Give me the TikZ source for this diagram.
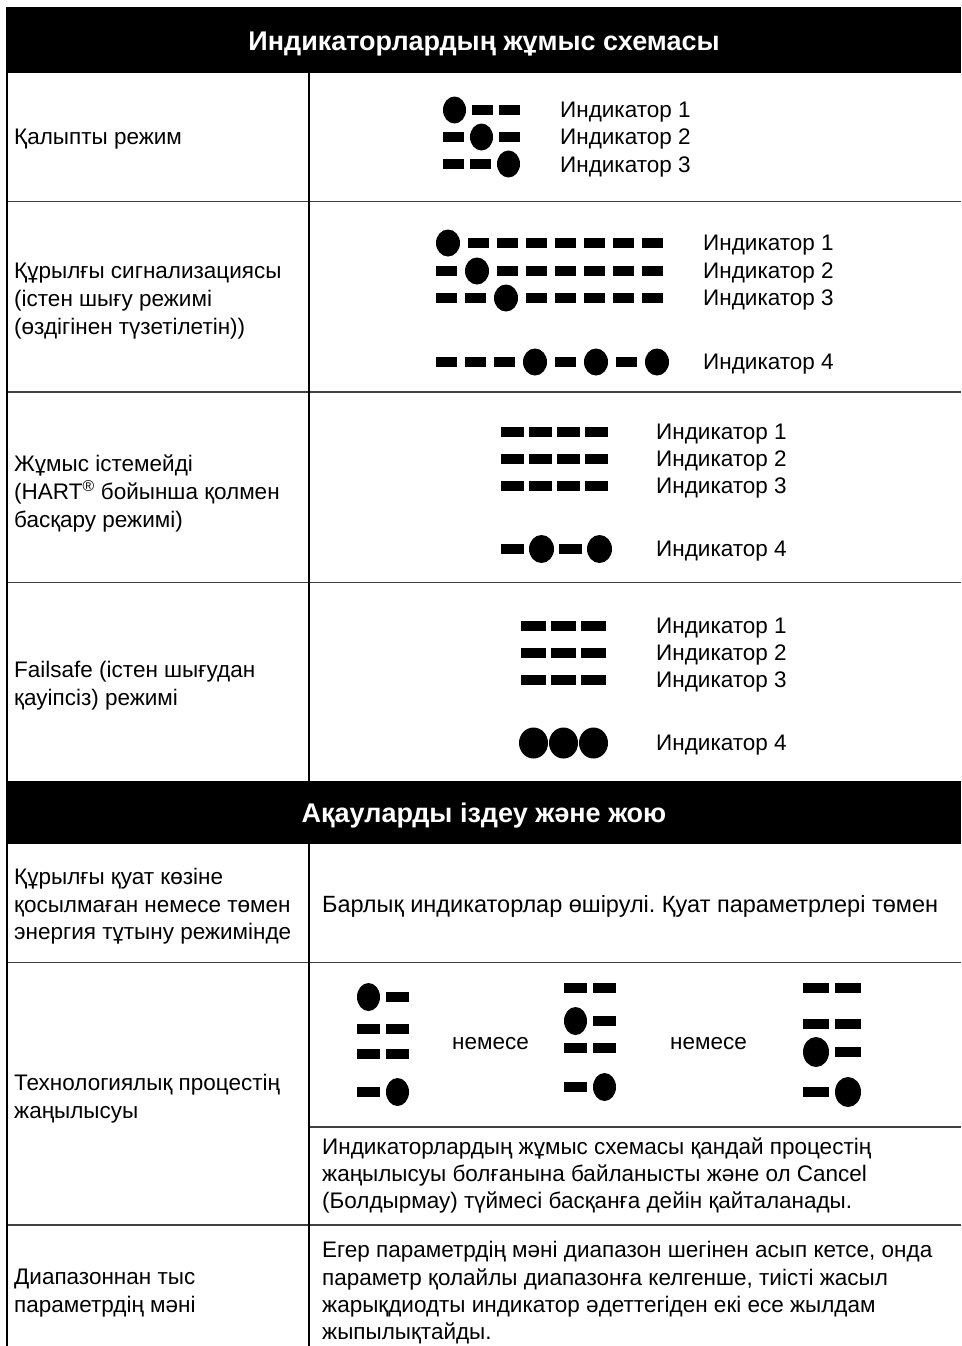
\documentclass[tikz,border=0pt]{standalone}
\usepackage{fontspec}
\setmainfont{Liberation Sans}
\frenchspacing
\newcommand\bodyfont{\fontsize{22.5}{27.5}\selectfont}
\newcommand\headfont{\fontsize{27}{31}\selectfont\bfseries}
\tikzset{
  txt/.style={anchor=base west, inner sep=0pt, font=\bodyfont},
  headtxt/.style={anchor=base, inner sep=0pt, font=\headfont, text=white},
  rowline/.style={draw=black!75, line width=1.6pt},
  colline/.style={draw=black, line width=1.1pt},
  border/.style={draw=black, line width=2.4pt},
  headbar/.style={fill=black},
  led/.style={fill=black}
}
% LED row: #1 x, #2 y, #3 pattern, #4 bar width, #5 circle width, #6 circle height, #7 gap
\newcommand\ledrow[7]{%
  \def\ledx{#1}\def\ledy{#2}\def\ledbw{#4}\def\ledcw{#5}\def\ledch{#6}\def\ledg{#7}%
  \pgfmathsetmacro\ledrx{#5/2}\pgfmathsetmacro\ledry{#6/2}%
  \ledparse#3\relax}
\def\ledparse#1{\ifx#1\relax\else\ledelem#1\expandafter\ledparse\fi}
\def\ledelem#1{%
  \if#1C%
    \fill[led] (\ledx+\ledrx,\ledy) ellipse [x radius=\ledrx pt, y radius=\ledry pt];%
    \pgfmathsetmacro\ledx{\ledx+\ledcw+\ledg}%
  \else
    \fill[led] (\ledx,\ledy-5) rectangle ++(\ledbw,10);%
    \pgfmathsetmacro\ledx{\ledx+\ledbw+\ledg}%
  \fi}
\begin{document}
\begin{tikzpicture}[x=1pt,y=-1pt]
\useasboundingbox (0,0) rectangle (961,1346);
% headers
\fill[headbar] (7,7) rectangle (961,73);
\fill[headbar] (7,781) rectangle (961,844);
\node[headtxt] (h1) at (484,51) {Индикаторлардың жұмыс схемасы};
\node[headtxt] (h2) at (484,822) {Ақауларды іздеу және жою};
% grid
\draw[rowline] (7,201.5) -- (961,201.5);
\draw[rowline] (7,392) -- (961,392);
\draw[rowline] (7,582.5) -- (961,582.5);
\draw[rowline] (7,962.5) -- (961,962.5);
\draw[rowline] (309,1127) -- (961,1127);
\draw[rowline] (7,1225) -- (961,1225);
\draw[colline] (309,73) -- (309,781);
\draw[colline] (309,844) -- (309,1346);
\draw[border] (7,7) -- (7,1346);
% row 1
\node[txt] (l1) at (14,144.5) {Қалыпты режим};
\ledrow{443}{110}{CBB}{21}{23}{27}{6}
\ledrow{443}{137}{BCB}{21}{23}{27}{6}
\ledrow{443}{164}{BBC}{21}{23}{27}{6}
\node[txt] (r1a) at (560,117.5) {Индикатор 1};
\node[txt] (r1b) at (560,144.5) {Индикатор 2};
\node[txt] (r1c) at (560,172) {Индикатор 3};
% row 2
\node[txt] (l2a) at (14,278.5) {Құрылғы сигнализациясы};
\node[txt] (l2b) at (14,306.5) {(істен шығу режимі};
\node[txt] (l2c) at (14,334.5) {(өздігінен түзетілетін))};
\ledrow{436}{243}{CBBBBBBB}{21}{24}{27}{8}
\ledrow{436}{271}{BCBBBBBB}{21}{24}{27}{8}
\ledrow{436}{298}{BBCBBBBB}{21}{24}{27}{8}
\ledrow{436}{362}{BBBCBCBC}{21}{24}{27}{8}
\node[txt] (r2a) at (703,250.5) {Индикатор 1};
\node[txt] (r2b) at (703,278.5) {Индикатор 2};
\node[txt] (r2c) at (703,305.5) {Индикатор 3};
\node[txt] (r2d) at (703,369.5) {Индикатор 4};
% row 3
\node[txt] (l3a) at (14,471.5) {Жұмыс істемейді};
\node[txt] (l3b) at (14,499.5) {(HART\textsuperscript{®} бойынша қолмен};
\node[txt] (l3c) at (14,527.5) {басқару режимі)};
\ledrow{501}{432}{BBBB}{23}{25}{28}{5}
\ledrow{501}{459}{BBBB}{23}{25}{28}{5}
\ledrow{501}{486}{BBBB}{23}{25}{28}{5}
\ledrow{501}{549}{BCBC}{23}{25}{28}{5}
\node[txt] (r3a) at (656,439.5) {Индикатор 1};
\node[txt] (r3b) at (656,466.5) {Индикатор 2};
\node[txt] (r3c) at (656,493.5) {Индикатор 3};
\node[txt] (r3d) at (656,556.5) {Индикатор 4};
% row 4
\node[txt] (l4a) at (14,677.5) {Failsafe (істен шығудан};
\node[txt] (l4b) at (14,705.5) {қауіпсіз) режимі};
\ledrow{521}{626}{BBB}{25}{29}{31}{5}
\ledrow{521}{653}{BBB}{25}{29}{31}{5}
\ledrow{521}{680}{BBB}{25}{29}{31}{5}
\ledrow{519}{743}{CCC}{25}{29}{31}{1}
\node[txt] (r4a) at (656,633.5) {Индикатор 1};
\node[txt] (r4b) at (656,660.5) {Индикатор 2};
\node[txt] (r4c) at (656,687.5) {Индикатор 3};
\node[txt] (r4d) at (656,750.5) {Индикатор 4};
% row 5
\node[txt] (l5a) at (14,884.5) {Құрылғы қуат көзіне};
\node[txt] (l5b) at (14,912.5) {қосылмаған немесе төмен};
\node[txt] (l5c) at (14,939.5) {энергия тұтыну режимінде};
\node[txt, font=\fontsize{23.5}{28}\selectfont] (r5) at (322,912.5) {Барлық индикаторлар өшірулі. Қуат параметрлері төмен};
% row 6
\node[txt] (l6a) at (14,1090.5) {Технологиялық процестің};
\node[txt] (l6b) at (14,1118.5) {жаңылысуы};
\ledrow{357}{997}{CB}{23}{23}{28}{6}
\ledrow{357}{1029}{BB}{23}{23}{28}{6}
\ledrow{357}{1054}{BB}{23}{23}{28}{6}
\ledrow{357}{1092}{BC}{23}{23}{28}{6}
\node[txt] (or1) at (452,1049) {немесе};
\ledrow{564}{988}{BB}{23}{23}{28}{6}
\ledrow{564}{1021}{CB}{23}{23}{28}{6}
\ledrow{564}{1048}{BB}{23}{23}{28}{6}
\ledrow{564}{1087}{BC}{23}{23}{28}{6}
\node[txt] (or2) at (670,1049) {немесе};
\ledrow{803}{988}{BB}{26}{26}{30}{6}
\ledrow{803}{1024}{BB}{26}{26}{30}{6}
\ledrow{803}{1052}{CB}{26}{26}{30}{6}
\ledrow{803}{1092}{BC}{26}{26}{30}{6}
\node[txt] (r6a) at (322,1154.5) {Индикаторлардың жұмыс схемасы қандай процестің};
\node[txt] (r6b) at (322,1181.5) {жаңылысуы болғанына байланысты және ол Cancel};
\node[txt] (r6c) at (322,1208.5) {(Болдырмау) түймесі басқанға дейін қайталанады.};
% row 7
\node[txt] (l7a) at (14,1284.5) {Диапазоннан тыс};
\node[txt] (l7b) at (14,1312.5) {параметрдің мәні};
\node[txt] (r7a) at (322,1257.5) {Егер параметрдің мәні диапазон шегінен асып кетсе, онда};
\node[txt] (r7b) at (322,1285.5) {параметр қолайлы диапазонға келгенше, тиісті жасыл};
\node[txt] (r7c) at (322,1312.5) {жарықдиодты индикатор әдеттегіден екі есе жылдам};
\node[txt] (r7d) at (322,1339.5) {жыпылықтайды.};
\end{tikzpicture}
\end{document}
